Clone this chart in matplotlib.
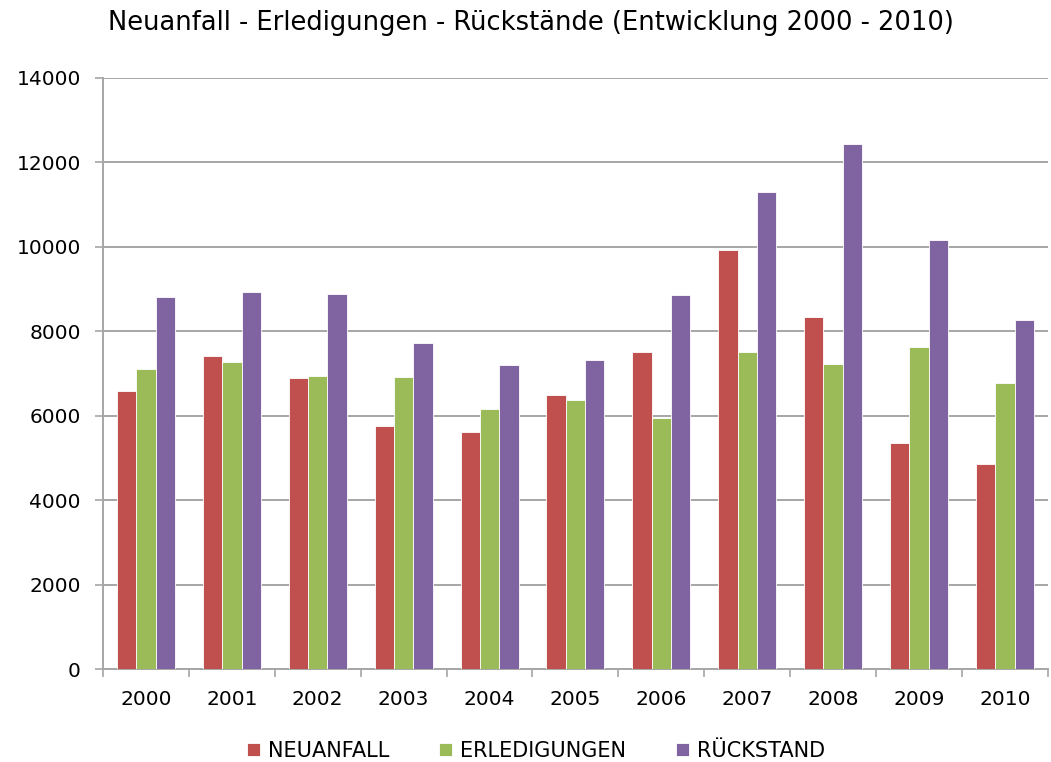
import matplotlib
matplotlib.use("Agg")
import matplotlib.pyplot as plt
import numpy as np

years = ["2000", "2001", "2002", "2003", "2004", "2005", "2006", "2007", "2008", "2009", "2010"]
neuanfall = [6590, 7400, 6890, 5760, 5610, 6485, 7496, 9924, 8342, 5361, 4848]
erledigungen = [7100, 7280, 6940, 6910, 6153, 6370, 5947, 7496, 7220, 7614, 6770]
rueckstand = [8800, 8919, 8888, 7709, 7187, 7315, 8857, 11300, 12422, 10169, 8255]
series_names = ["NEUANFALL", "ERLEDIGUNGEN", "RÜCKSTAND"]
colors = ["#C0504D", "#9BBB59", "#8064A2"]
yticks = [0, 2000, 4000, 6000, 8000, 10000, 12000, 14000]

fig = plt.figure(figsize=(10.51, 7.62), dpi=100)
ax = fig.add_axes([0.098, 0.122, 0.899, 0.776])

x = np.arange(len(years))
w = 0.225
for i, (vals, name, c) in enumerate(zip([neuanfall, erledigungen, rueckstand], series_names, colors)):
    ax.bar(x + (i - 1) * w, vals, width=w, color=c, edgecolor="white", linewidth=0.6, label=name, zorder=3)

ax.set_xlim(-0.5, len(years) - 0.5)
ax.set_ylim(0, 14000)
ax.set_yticks(yticks)
ax.set_yticklabels([str(v) for v in yticks], fontsize=14.5)
ax.yaxis.grid(True, color="#a6a6a6", linewidth=1.4, zorder=0)
ax.set_xticks(x)
ax.set_xticklabels(years, fontsize=14.5)
ax.tick_params(axis="x", length=0, pad=15)
ax.set_xticks(np.arange(-0.5, len(years), 1), minor=True)
ax.tick_params(axis="x", which="minor", length=6, color="#a6a6a6", width=1.2)
ax.tick_params(axis="y", length=6, color="#a6a6a6", width=1.2, pad=10)
for s in ["top", "right"]:
    ax.spines[s].set_visible(False)
for s in ["left", "bottom"]:
    ax.spines[s].set_color("#a6a6a6")
    ax.spines[s].set_linewidth(1.4)

fig.text(0.505, 0.97, "Neuanfall - Erledigungen - Rückstände (Entwicklung 2000 - 2010)",
         ha="center", va="center", fontsize=18.5)
leg = fig.legend(loc="center", bbox_to_anchor=(0.51, 0.015), ncol=3, frameon=False,
                 fontsize=15, handlelength=0.6, handleheight=0.6, columnspacing=2.4, handletextpad=0.4)

fig.savefig("out.png", dpi=100)
